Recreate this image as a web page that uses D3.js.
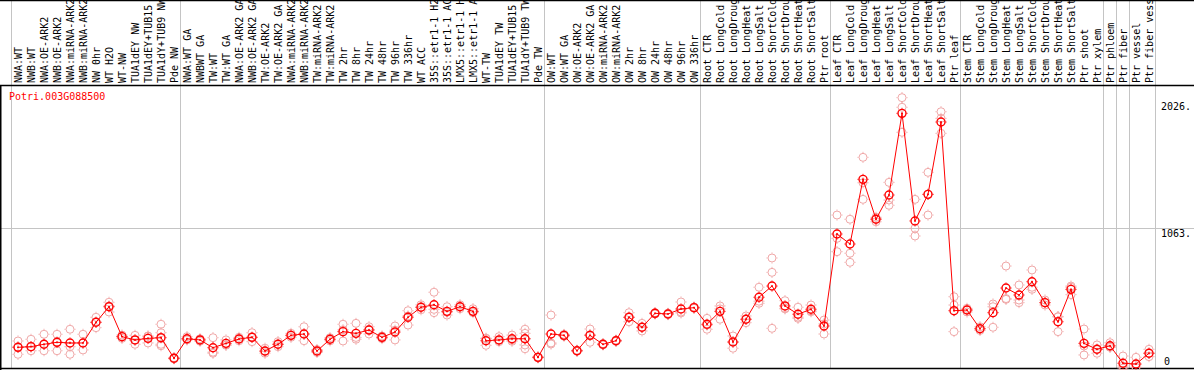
<!DOCTYPE html>
<html>
<head>
<meta charset="utf-8">
<script src="https://cdn.jsdelivr.net/npm/d3@7"></script>
<style>
  html, body { margin: 0; padding: 0; background: #fff; }
  svg { display: block; }
  text { font-family: "DejaVu Sans Mono", monospace; font-size: 10px; }
</style>
</head>
<body>
<div id="chart"></div>
<script>
const geneName = 'Potri.003G088500';

const samples = [
  'NWA:WT', 'NWB:WT', 'NWA:OE-ARK2', 'NWB:OE-ARK2', 'NWA:miRNA-ARK2', 'NWB:miRNA-ARK2',
  'NW 0hr', 'WT H2O', 'WT-NW', 'TUA1dEY NW', 'TUA1dEY+TUB15 NW', 'TUA1dY+TUB9 NW', 'Pde NW',
  'NWA:WT GA', 'NWBWT GA', 'TW:WT', 'TW:WT GA', 'NWA:OE-ARK2 GA', 'NWB:OE-ARK2 GA',
  'TW:OE-ARK2', 'TW:OE-ARK2 GA', 'NWA:miRNA-ARK2 GA', 'NWB:miRNA-ARK2 GA', 'TW:miRNA-ARK2',
  'TW:miRNA-ARK2 GA', 'TW 2hr', 'TW 8hr', 'TW 24hr', 'TW 48hr', 'TW 96hr', 'TW 336hr',
  'WT ACC', '35S::etr1-1 H2O', '35S::etr1-1 ACC', 'LMX5::etr1-1 H2O', 'LMX5::etr1-1 ACC',
  'WT-TW', 'TUA1dEY TW', 'TUA1dEY+TUB15 TW', 'TUA1dY+TUB9 TW', 'Pde TW',
  'OW:WT', 'OW:WT GA', 'OW:OE-ARK2', 'OW:OE-ARK2 GA', 'OW:miRNA-ARK2', 'OW:miRNA-ARK2 GA',
  'OW 2hr', 'OW 8hr', 'OW 24hr', 'OW 48hr', 'OW 96hr', 'OW 336hr',
  'Root CTR', 'Root LongCold', 'Root LongDrought', 'Root LongHeat', 'Root LongSalt',
  'Root ShortCold', 'Root ShortDrought', 'Root ShortHeat', 'Root ShortSalt', 'Ptr root',
  'Leaf CTR', 'Leaf LongCold', 'Leaf LongDrought', 'Leaf LongHeat', 'Leaf LongSalt',
  'Leaf ShortCold', 'Leaf ShortDrought', 'Leaf ShortHeat', 'Leaf ShortSalt', 'Ptr leaf',
  'Stem CTR', 'Stem LongCold', 'Stem LongDrought', 'Stem LongHeat', 'Stem LongSalt',
  'Stem ShortCold', 'Stem ShortDrought', 'Stem ShortHeat', 'Stem ShortSalt',
  'Ptr shoot', 'Ptr xylem', 'Ptr phloem', 'Ptr fiber', 'Ptr vessel', 'Ptr fiber vessel'
];

// first sample of each group (grey separators drawn before them)
const groupStarts = ['NWA:WT', 'NWA:WT GA', 'OW:WT', 'Root CTR', 'Leaf CTR', 'Stem CTR',
  'Ptr phloem', 'Ptr fiber', 'Ptr vessel'];

// mean expression per sample
const means = [
  157, 162, 180, 195, 190, 190, 347, 465, 238, 213, 225, 230, 74,
  222, 213, 154, 187, 220, 233, 129, 180, 248, 258, 129, 218, 276, 263, 288, 233, 273,
  385, 461, 480, 430, 465, 430, 207, 213, 222, 222, 81,
  258, 248, 131, 248, 180, 207, 385, 309, 415, 410, 448, 458,
  332, 430, 197, 370, 537, 622, 471, 408, 446, 319,
  1017, 941, 1432, 1129, 1313, 1933, 1116, 1318, 1867, 435,
  440, 298, 420, 607, 554, 655, 496, 351, 597, 187, 142,
  169, 36, 30, 112
];

// individual replicates per sample
const replicates = [
  [205, 160, 104], [218, 160, 131], [256, 180, 131], [256, 195, 131], [294, 162, 104],
  [256, 190, 137], [385, 347, 306], [499, 471, 425], [250, 238, 225], [248, 213, 180],
  [243, 240, 190], [332, 268, 180, 169], [78, 72, 70],
  [238, 222, 213], [222, 213, 203], [230, 120, 112], [213, 175, 173], [233, 220, 207],
  [268, 233, 200], [150, 125, 112], [200, 180, 162], [263, 248, 233], [313, 258, 207],
  [140, 129, 118], [230, 218, 206], [332, 290, 205], [339, 232, 218], [313, 293, 258],
  [243, 233, 223], [319, 287, 213], [435, 395, 326], [480, 461, 442], [575, 445, 420],
  [465, 423, 402], [480, 465, 450], [450, 430, 420], [225, 225, 172], [238, 213, 200],
  [250, 213, 203], [294, 263, 222, 175, 146], [85, 81, 77],
  [402, 190, 182], [255, 248, 241], [135, 131, 127], [296, 253, 195], [185, 180, 175],
  [212, 207, 202], [420, 385, 351], [339, 309, 281], [420, 415, 410], [415, 410, 405],
  [501, 425, 418], [463, 458, 453],
  [377, 326, 294], [471, 449, 370], [243, 197, 150], [395, 370, 344], [613, 507, 491],
  [835, 726, 301], [511, 453, 449], [461, 386, 377], [478, 433, 427], [364, 335, 258],
  [1161, 984, 883], [1129, 871, 802], [1599, 1406, 1280], [1144, 1132, 1110],
  [1409, 1275, 1235], [2052, 1979, 1789], [1280, 1060, 1002], [1485, 1318, 1161],
  [1945, 1895, 1781], [541, 478, 276],
  [453, 440, 425], [313, 298, 285], [486, 465, 309], [774, 527, 521], [630, 516, 496],
  [744, 613, 597], [516, 496, 478], [389, 389, 276], [622, 613, 557], [296, 167, 99],
  [175, 140, 112], [192, 160, 157], [91, 15, 0], [81, 5, 4], [142, 112, 86]
];

const yTicks = [0, 1063, 2026];
const yMax = 2148;

const width = 1194, height = 370;
const headerH = 85;
const plot = { left: 11.5, right: 1155.5, top: headerH, bottom: 368 };
const red = '#ff0000', pink = '#f0a8a8', grid = '#c4c4c4';

const svg = d3.select('#chart').append('svg')
  .attr('width', width)
  .attr('height', height);

const x = d3.scaleBand(samples, [plot.left, plot.right]);
const y = d3.scaleLinear([0, yMax], [plot.bottom, plot.top]);
const cx = d => x(d) + x.bandwidth() / 2;

// grid
const gridG = svg.append('g').attr('stroke', grid).attr('stroke-width', 1);
gridG.selectAll('line.v')
  .data(groupStarts.map(s => x(s)).concat([plot.right]))
  .join('line')
    .attr('class', 'v')
    .attr('x1', d => Math.round(d) - 0.5).attr('x2', d => Math.round(d) - 0.5)
    .attr('y1', 0).attr('y2', plot.bottom);
gridG.append('line')
  .attr('x1', 0).attr('x2', width)
  .attr('y1', Math.round(y(1063)) + 0.5).attr('y2', Math.round(y(1063)) + 0.5);

// header labels (long ones are cut at the top, as in the original)
svg.append('clipPath').attr('id', 'hdr')
  .append('rect').attr('x', 0).attr('y', 1).attr('width', width).attr('height', headerH - 1);
svg.append('g')
  .attr('clip-path', 'url(#hdr)')
  .selectAll('text')
  .data(samples)
  .join('text')
    .attr('transform', d => `translate(${cx(d) + 3.5}, ${headerH - 2}) rotate(-90)`)
    .attr('fill', '#000')
    .text(d => d);

// frame
const frame = svg.append('g').attr('stroke', '#000').attr('stroke-width', 1.5);
frame.append('line').attr('x1', 0).attr('x2', width).attr('y1', 0.5).attr('y2', 0.5);
frame.append('line').attr('x1', 0).attr('x2', width).attr('y1', headerH + 0.5).attr('y2', headerH + 0.5);
frame.append('line').attr('x1', 0).attr('x2', width).attr('y1', plot.bottom + 0.5).attr('y2', plot.bottom + 0.5);
frame.append('line').attr('x1', 0.75).attr('x2', 0.75).attr('y1', headerH).attr('y2', height);

// title
svg.append('text')
  .attr('x', 9).attr('y', 100)
  .attr('fill', red)
  .text(geneName);

// y tick labels
svg.append('g')
  .selectAll('text')
  .data(yTicks)
  .join('text')
    .attr('x', d => d === 0 ? 1164 : 1161)
    .attr('y', d => d === 0 ? y(d) - 3 : y(d) + 9)
    .attr('fill', '#000')
    .text(d => d === 0 ? '0' : d + '.');

// marker: thin circle plus small pixel ticks
function marker(g, color, sw) {
  g.append('circle').attr('r', 4).attr('fill', 'none').attr('stroke', color).attr('stroke-width', sw);
  g.append('path')
    .attr('d', 'M0,-5.5V-4.5M0,4.5V5.5M-5.5,0H-4.5M4.5,0H5.5')
    .attr('stroke', color).attr('stroke-width', 1);
}

// replicates
const repData = samples.flatMap((s, i) => replicates[i].map(v => ({ s, v })));
svg.append('g')
  .selectAll('g')
  .data(repData)
  .join('g')
    .attr('transform', d => `translate(${cx(d.s)}, ${y(d.v)})`)
    .each(function() { marker(d3.select(this), pink, 1); });

// mean line
const line = d3.line()
  .x((d, i) => cx(samples[i]))
  .y(d => y(d));
svg.append('path')
  .attr('d', line(means))
  .attr('fill', 'none')
  .attr('stroke', red)
  .attr('stroke-width', 1);

// means
svg.append('g')
  .selectAll('g')
  .data(means)
  .join('g')
    .attr('transform', (d, i) => `translate(${cx(samples[i])}, ${y(d)})`)
    .each(function() {
      const g = d3.select(this);
      marker(g, red, 1.4);
      g.append('path').attr('d', 'M-1,0H1M0,-1V1').attr('stroke', red).attr('stroke-width', 1);
    });
</script>
</body>
</html>
